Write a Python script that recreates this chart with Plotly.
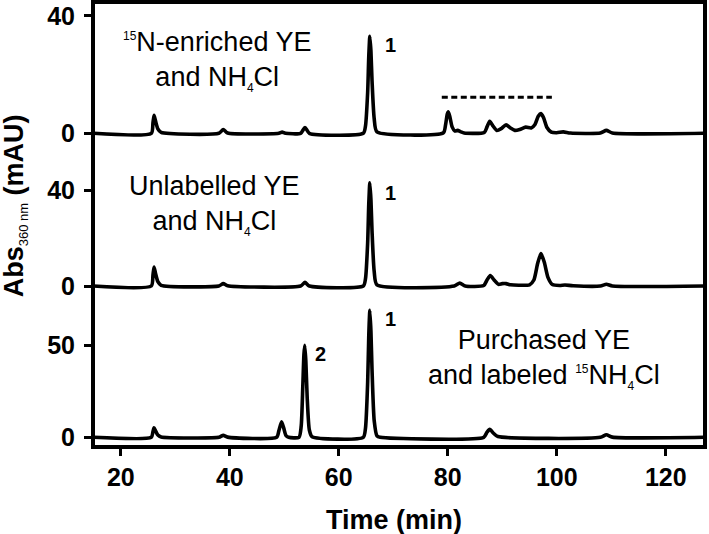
import plotly.graph_objects as go

# ---------------- data ----------------
# Trace 1: 15N-enriched YE and NH4Cl  (time in min, absorbance in mAU)
t_enriched = [15, 25.6, 25.9, 26.1, 26.4, 26.8, 27.4, 38.0, 38.8, 39.6, 49.0, 49.6, 50.2,
              53.0, 53.8, 54.6, 64.5, 64.9, 65.3, 65.5, 65.7, 65.9, 66.1, 66.5, 67.0,
              79.2, 79.6, 79.9, 80.1, 80.4, 80.8, 81.3, 81.8, 82.3, 83.0,
              86.7, 87.2, 87.7, 88.3, 89.0, 89.8, 90.7, 91.5, 92.3, 93.2, 94.3, 95.3,
              96.0, 96.6, 97.1, 97.6, 98.2, 99.0, 100.0, 101.2, 102.5, 108.0, 109.1, 110.2, 127]
a_enriched = [0, 0, 3.5, 6.1, 4.0, 1.5, 0.3, 0, 1.3, 0.1, 0, 0.4, 0,
              0, 2.0, 0, 0, 2.5, 14, 26, 33.1, 28, 18, 5, 0.5,
              0.2, 3.0, 6.5, 7.3, 5.5, 2.2, 0.8, 1.0, 0.6, 0.1,
              0.3, 2.2, 4.1, 2.5, 1.0, 1.6, 2.9, 1.8, 1.0, 1.3, 2.1, 1.8,
              3.0, 5.8, 6.7, 5.2, 2.0, 0.4, 0.2, 0.5, 0.1, 0.1, 1.0, 0.1, 0]

# Trace 2: Unlabelled YE and NH4Cl
t_unlabelled = [15, 25.6, 25.9, 26.1, 26.4, 26.8, 27.4, 38.0, 38.8, 39.6, 53.0, 53.8, 54.6,
                64.5, 64.9, 65.3, 65.5, 65.7, 65.9, 66.1, 66.5, 67.0,
                81.2, 82.2, 83.2, 86.6, 87.2, 87.8, 88.5, 89.3, 90.0, 90.7, 91.5, 93.0,
                95.0, 95.8, 96.5, 97.1, 97.7, 98.4, 99.2, 100.5, 101.5, 103.0,
                108.0, 109.1, 110.2, 127]
a_unlabelled = [0, 0, 4.5, 7.9, 5.0, 1.8, 0.3, 0, 1.0, 0.1, 0, 1.5, 0,
                0, 3.0, 18, 34, 43, 36, 23, 6, 0.5,
                0, 1.2, 0, 0.2, 2.5, 4.4, 2.5, 0.7, 1.0, 1.0, 0.5, 0.3,
                0.5, 2.5, 9.5, 13.5, 10, 3.5, 0.6, 0.2, 0.4, 0.1,
                0, 0.7, 0, 0]

# Trace 3: Purchased YE and labeled 15NH4Cl
t_purchased = [15, 25.6, 25.9, 26.1, 26.4, 26.8, 27.4, 38.0, 38.8, 39.6,
               48.6, 49.0, 49.5, 49.9, 50.3, 50.8,
               52.7, 53.1, 53.4, 53.6, 53.75, 53.95, 54.2, 54.6, 55.1,
               64.5, 64.9, 65.3, 65.5, 65.7, 65.9, 66.1, 66.5, 67.0, 67.6,
               86.6, 87.2, 87.7, 88.4, 89.2, 108.0, 109.1, 110.2, 127]
a_purchased = [0, 0, 3.0, 5.2, 3.4, 1.2, 0.2, 0, 1.1, 0.1,
               0, 3.5, 8.4, 5.0, 1.0, 0,
               0, 6, 28, 45, 50.2, 42, 22, 4, 0.3,
               0, 5, 30, 55, 69.3, 58, 37, 9, 0.8, 0,
               0, 2.8, 4.4, 2.2, 0.4, 0, 1.4, 0.1, 0]

# dashed bracket above the peaks in trace 1
dash_t = [78.9, 99.1]
dash_a = [12.3, 12.3]

x_ticks = [20, 40, 60, 80, 100, 120]
y1_ticks = [0, 40]
y2_ticks = [0, 40]
y3_ticks = [0, 50]

# ---------------- figure ----------------
FONT = "Liberation Sans, Arial, Helvetica, sans-serif"
BLACK = "black"

fig = go.Figure()
line = dict(color=BLACK, width=3.6, shape="spline", smoothing=0.6)
fig.add_trace(go.Scatter(x=t_enriched, y=a_enriched, mode="lines", line=line, xaxis="x", yaxis="y"))
fig.add_trace(go.Scatter(x=t_unlabelled, y=a_unlabelled, mode="lines", line=line, xaxis="x", yaxis="y2"))
fig.add_trace(go.Scatter(x=t_purchased, y=a_purchased, mode="lines", line=line, xaxis="x", yaxis="y3"))
fig.add_trace(go.Scatter(x=dash_t, y=dash_a, mode="lines",
                         line=dict(color=BLACK, width=3, dash="6px,3.5px"), xaxis="x", yaxis="y"))

tickfont = dict(family=FONT, size=25, color=BLACK, weight="bold")
yax = dict(showgrid=False, zeroline=False, showline=False, ticks="outside", ticklen=8,
           tickwidth=3, tickcolor=BLACK, tickfont=tickfont, anchor="x", fixedrange=True,
           ticklabelstandoff=4)

fig.update_layout(
    width=709, height=534,
    margin=dict(l=93, r=4, t=2, b=87),
    paper_bgcolor="white", plot_bgcolor="white",
    showlegend=False,
    xaxis=dict(range=[14.9, 127.2], tickvals=x_ticks, showgrid=False, zeroline=False,
               showline=False, ticks="outside", ticklen=8, tickwidth=3, tickcolor=BLACK,
               tickfont=tickfont, anchor="y3", fixedrange=True),
    yaxis=dict(domain=[0.64494, 1.0], range=[-9.10, 44.77], tickvals=y1_ticks, **yax),
    yaxis2=dict(domain=[0.33034, 0.64494], range=[-5.83, 52.5], tickvals=y2_ticks, **yax),
    yaxis3=dict(domain=[0.0, 0.33034], range=[-5.29, 74.95], tickvals=y3_ticks, **yax),
)

# frame around the whole plot area
fig.add_shape(type="rect", xref="paper", yref="paper", x0=0, x1=1, y0=0, y1=1,
              line=dict(color=BLACK, width=4), layer="above")

txt = dict(family=FONT, size=27, color=BLACK)
small = '<span style="font-size:12px">{}</span>'
labels = [
    ("y", 37.7, 24.65, "<sup>" + small.format("15") + "</sup>N-enriched YE<br>and NH<sub>"
     + small.format("4") + "</sub>Cl"),
    ("y2", 37.2, 33.8, "Unlabelled YE<br>and NH<sub>" + small.format("4") + "</sub>Cl"),
    ("y3", 97.65, 42.9, "Purchased YE<br>and labeled <sup>" + small.format("15") + "</sup>NH<sub>"
     + small.format("4") + "</sub>Cl"),
]
for yref, x, y, s in labels:
    fig.add_annotation(x=x, y=y, xref="x", yref=yref, text=s, showarrow=False,
                       font=txt, xanchor="center", yanchor="middle", align="center")

peak_font = dict(family=FONT, size=20, color=BLACK, weight="bold")
peaks = [("y", 69.5, 30.1, "1"), ("y2", 69.5, 38.9, "1"), ("y3", 69.5, 64.4, "1"), ("y3", 56.7, 45.5, "2")]
for yref, x, y, s in peaks:
    fig.add_annotation(x=x, y=y, xref="x", yref=yref, text=s, showarrow=False,
                       font=peak_font, xanchor="center", yanchor="middle")

title_font = dict(family=FONT, size=27, color=BLACK, weight="bold")
fig.add_annotation(xref="paper", yref="paper", x=0.492, y=-0.164, text="Time (min)",
                   showarrow=False, font=title_font, xanchor="center", yanchor="middle")
fig.add_annotation(xref="paper", yref="paper", x=-0.1275, y=0.543, textangle=-90,
                   text='Abs<sub><span style="font-size:13px;font-weight:normal">360 nm</span></sub> (mAU)',
                   showarrow=False, font=title_font, xanchor="center", yanchor="middle")

fig.write_html("out.html", config={"displayModeBar": False},
               post_script="document.body.style.margin='0';document.body.style.overflow='hidden';")
